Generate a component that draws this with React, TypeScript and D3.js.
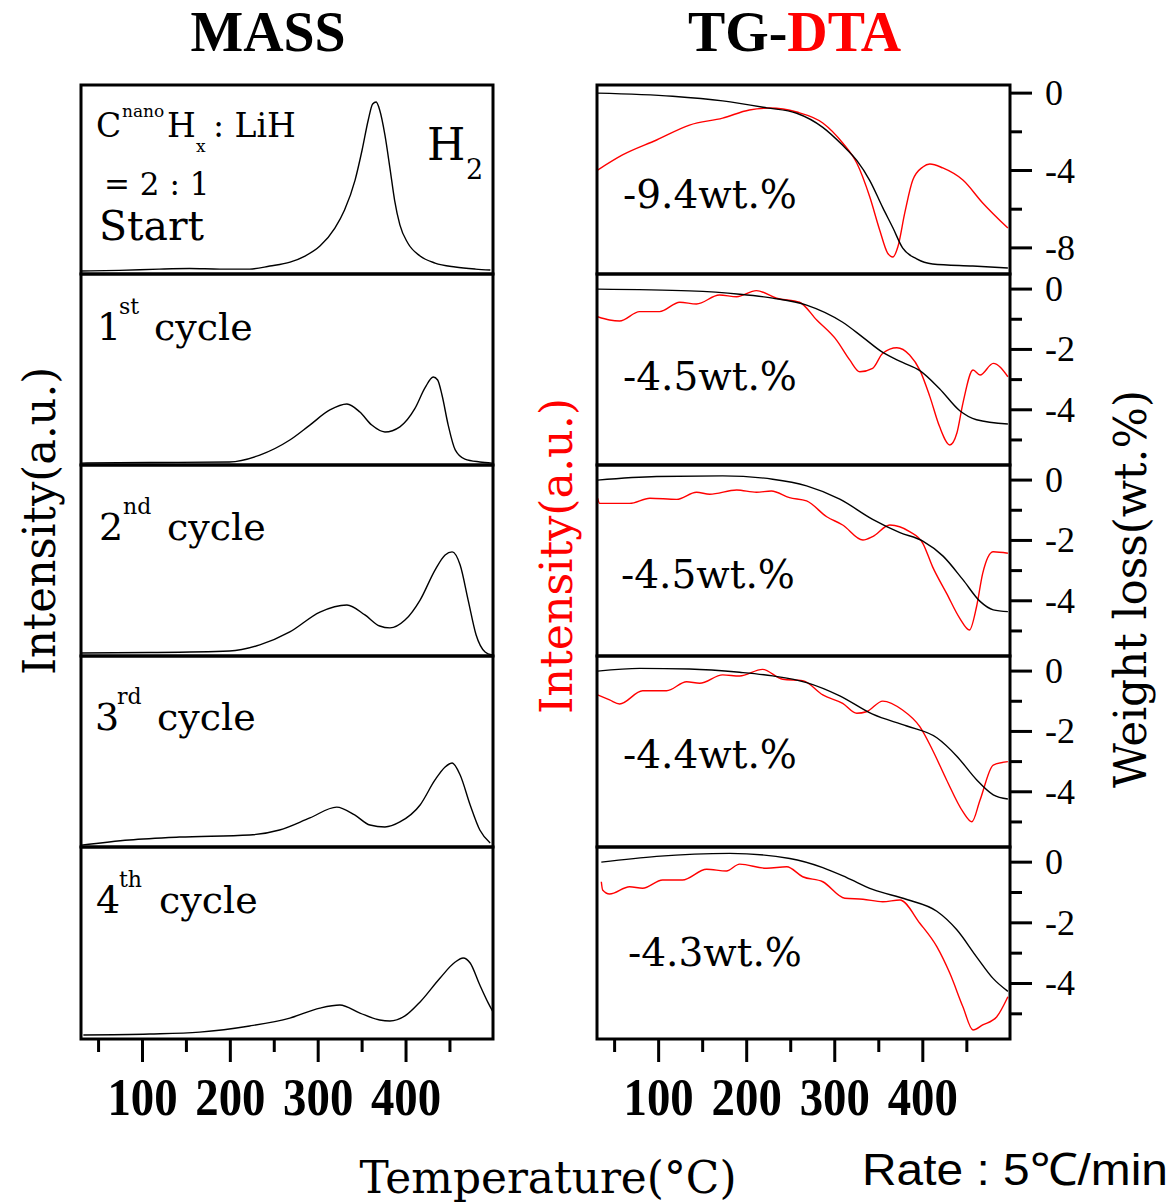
import React from 'react';
import * as d3 from 'd3';

// ---------- data ----------
const TEMP_DOMAIN: [number, number] = [30, 499];
const X_MAJOR = [100, 200, 300, 400];
const X_MINOR = [50, 150, 250, 350, 450];

// MASS (H2 intensity, a.u.) : [temperature, intensity]
const massStart: [number, number][] = [
  [30, 1.6], [73.8, 1.9], [119, 2.6], [153.6, 2.9], [188, 2.6], [222, 2.6], [245, 4.2], [268, 6.3],
  [285, 9.5], [302, 14.8], [319, 24.3], [330, 33.9], [342, 49.7], [350, 65.6], [357, 81.5], [362, 90],
  [366, 91], [370, 86.8], [376, 73.5], [382, 55], [387, 39], [393, 26], [402, 16.4], [416, 9.5],
  [433, 5.8], [456, 3.7], [479, 2.6], [496, 2.1],
];
const mass1st: [number, number][] = [
  [30, 1.0], [108, 1.3], [199, 1.6], [233.5, 5.2], [267.7, 13.1], [290.5, 20.9], [313.3, 28.8],
  [332.7, 31.9], [347.5, 27.7], [361, 20.9], [376, 17.3], [393, 20.0], [410, 29.5], [421.7, 40.5],
  [431, 46.1], [436, 44.5], [441, 36.5], [448, 20.9], [456, 7.9], [467, 3.1], [484, 1.6], [498, 1.0],
];
const mass2nd: [number, number][] = [
  [30, 1.6], [108, 1.8], [199, 2.6], [233.5, 5.8], [267.7, 12.6], [302, 23.0], [332.7, 26.7],
  [353.2, 21.5], [370, 15.7], [381.7, 14.7], [398.8, 18.8], [416, 29.3], [433, 45.0], [444.5, 52.9],
  [452.5, 54.5], [461.6, 47.6], [470.7, 29.3], [479.8, 11.0], [490, 2.1], [498, 0.5],
];
const mass3rd: [number, number][] = [
  [30, 1.0], [85, 3.7], [142, 5.2], [222, 6.3], [256, 8.9], [290.5, 15.2], [321, 20.9], [341.5, 16.8],
  [358.9, 11.5], [376, 10.5], [393, 13.1], [416, 22.0], [433, 35.1], [444.5, 41.9], [452.5, 44.0],
  [461.6, 37.7], [473, 22.0], [484, 8.9], [495.8, 2.1],
];
const mass4th: [number, number][] = [
  [32.7, 2.1], [108, 2.6], [165, 3.6], [222, 6.8], [267.7, 10.9], [302, 16.1], [324.7, 17.7],
  [347.5, 13.5], [370, 9.9], [381.7, 9.4], [398.8, 12.0], [416, 19.3], [438.8, 31.8], [456, 40.1],
  [465, 42.2], [473, 39.6], [484, 28.1], [493.5, 18.8], [499, 14.1],
];

// TG (weight loss, wt.%) : [temperature, wt%]
const tgStart: [number, number][] = [
  [30.7, 0], [115.9, -0.16], [172.7, -0.4], [222.7, -0.76], [256.8, -1.04], [286.4, -1.77], [309, -2.7],
  [325, -3.48], [339.8, -4.52], [354.5, -5.92], [366, -6.96], [377, -8.0], [393, -8.57], [411, -8.83],
  [456.8, -8.94], [496.6, -9.04],
];
const tg1st: [number, number][] = [
  [30.7, 0], [135, -0.06], [192, -0.17], [229.5, -0.3], [268, -0.53], [309, -1.1], [332, -1.6],
  [354.5, -2.1], [377, -2.43], [396.6, -2.7], [419, -3.3], [442, -4.03], [461, -4.33], [496.6, -4.47],
];
const tg2nd: [number, number][] = [
  [30.7, 0], [97.7, 0.12], [172.7, 0.14], [229.5, 0.03], [268, -0.19], [305.7, -0.63], [343, -1.3],
  [374, -1.74], [400, -2.02], [423, -2.52], [445.5, -3.3], [465, -4.02], [480, -4.3], [496.6, -4.36],
];
const tg3rd: [number, number][] = [
  [30.7, 0], [78.4, 0.09], [135, 0.07], [192, -0.04], [229.5, -0.16], [268, -0.38], [305.7, -0.82],
  [343, -1.43], [381.8, -1.82], [415.9, -2.21], [438.6, -2.82], [461, -3.6], [480, -4.1], [496.6, -4.24],
];
const tg4th: [number, number][] = [
  [34.9, 0], [97.7, 0.19], [180.7, 0.29], [248.9, 0.12], [286.4, -0.18], [313.6, -0.51], [343, -0.9],
  [381.8, -1.23], [415.9, -1.62], [438.6, -2.23], [461, -3.12], [480, -3.84], [496.6, -4.26],
];

// DTA (a.u.) : [temperature, signal]
const dtaStart: [number, number][] = [
  [30.7, 55.0], [59, 63.0], [97.7, 70.9], [135, 78.8], [172.7, 82.5], [203, 86.8], [226, 87.8],
  [256.8, 85.7], [286.4, 79.9], [309, 69.3], [325, 58.7], [339.8, 40.7], [351, 23.3], [360, 11.1],
  [366, 9.0], [371.6, 14.3], [379.5, 32.3], [388.6, 49.7], [400, 56.6], [408, 58.2], [422.7, 56.1],
  [445.5, 49.7], [468, 37.6], [496.6, 24.3],
];
const dta1st: [number, number][] = [
  [30.7, 77.6], [44.3, 75.9], [55.7, 75.4], [78.4, 80.3], [101, 80.3], [124, 85.2], [143, 84.3],
  [169, 89.0], [188.6, 88.1], [211, 91.3], [234, 87.3], [260, 85.2], [279.5, 75.9], [302, 65.4],
  [317, 55.0], [328.4, 48.8], [343, 50.6], [354.5, 58.5], [370.5, 61.4], [385, 57.6], [396.6, 49.7],
  [408, 35.8], [419, 20.1], [430.7, 10.5], [438.6, 16.6], [445.5, 32.3], [457, 49.7], [465, 47.1],
  [480, 53.2], [496.6, 46.2],
];
const dta2nd: [number, number][] = [
  [30.7, 82.6], [33, 79.9], [67, 79.9], [90, 82.6], [120.5, 82.0], [143, 85.7], [158, 84.7],
  [188.6, 86.9], [211, 85.7], [228, 86.4], [248.6, 82.9], [268, 81.2], [290.9, 72.9], [309, 68.6],
  [332, 60.7], [343, 62.5], [362.5, 68.6], [385, 65.1], [400, 59.0], [411, 46.8], [427, 32.8],
  [442, 19.7], [453, 13.6], [461, 25.8], [468, 43.3], [480, 54.6], [496.6, 53.8],
];
const dta3rd: [number, number][] = [
  [30.7, 79.6], [44.3, 77.0], [55.7, 74.9], [81.8, 81.8], [109, 81.8], [131.8, 86.5], [146.6, 85.7],
  [172.7, 90.1], [192, 89.5], [218, 93.0], [240.9, 87.8], [263.6, 87.1], [286.4, 79.6], [309, 75.2],
  [325, 70.0], [336, 70.8], [354.5, 76.4], [377, 71.7], [396.6, 63.0], [411, 50.8], [427, 35.1],
  [445.5, 18.5], [455.7, 13.2], [465, 24.6], [480, 42.9], [496.6, 44.7],
];
const dta4th: [number, number][] = [
  [34.9, 81.9], [36.4, 77.6], [44.3, 75.5], [67, 79.3], [81.8, 78.5], [104.5, 82.8], [127, 82.8],
  [154.5, 88.4], [177, 87.5], [192, 91.1], [222.7, 88.9], [245.5, 89.7], [263.6, 84.5], [286.4, 81.9],
  [311.4, 73.3], [332, 72.8], [354.5, 71.5], [374, 72.4], [396.6, 60.3], [415.9, 48.1], [430.7, 34.2],
  [445.5, 16.8], [457, 4.7], [468, 7.3], [484, 11.6], [496.6, 22.0],
];

const massSeries = [massStart, mass1st, mass2nd, mass3rd, mass4th];
const tgSeries = [tgStart, tg1st, tg2nd, tg3rd, tg4th];
const dtaSeries = [dtaStart, dta1st, dta2nd, dta3rd, dta4th];

const tgDomainFirst: [number, number] = [0.42, -9.35];
const tgDomainOther: [number, number] = [0.5, -5.83];
const tgMajorFirst = [0, -4, -8];
const tgMinorFirst = [-2, -6];
const tgMajorOther = [0, -2, -4];
const tgMinorOther = [-1, -3, -5];

const wtLabels = ['-9.4wt.%', '-4.5wt.%', '-4.5wt.%', '-4.4wt.%', '-4.3wt.%'];
const cycleNums = ['1', '2', '3', '4'];
const cycleSups = ['st', 'nd', 'rd', 'th'];

// ---------- layout ----------
const W = 1174;
const H = 1202;
const ROWS = [85, 274, 465, 656, 847, 1039];
const LEFT: [number, number] = [81, 493];
const RIGHT: [number, number] = [597, 1010];

const SERIF = "'DejaVu Serif', serif";
const TIMES = "'Liberation Serif', 'Times New Roman', serif";
const SANS = "'Liberation Sans', Arial, sans-serif";

const wtPos = [
  { x: 623, y: 208 },
  { x: 623, y: 390 },
  { x: 621, y: 588 },
  { x: 623, y: 768 },
  { x: 628, y: 966 },
];
const cyclePos = [
  { x: 97, y: 340, sx: 119, cx: 154 },
  { x: 99, y: 540, sx: 123, cx: 167 },
  { x: 95, y: 730, sx: 117, cx: 157 },
  { x: 96, y: 913, sx: 119, cx: 159 },
];

export default function App() {
  const xL = d3.scaleLinear().domain(TEMP_DOMAIN).range(LEFT);
  const xR = d3.scaleLinear().domain(TEMP_DOMAIN).range(RIGHT);

  const panels = ROWS.slice(0, 5).map((top, i) => {
    const bottom = ROWS[i + 1];
    const yMass = d3.scaleLinear().domain([0, 100]).range([bottom, top]);
    const yDta = d3.scaleLinear().domain([0, 100]).range([bottom, top]);
    const yTg = d3.scaleLinear().domain(i === 0 ? tgDomainFirst : tgDomainOther).range([top, bottom]);
    const massLine = d3.line<[number, number]>().x(d => xL(d[0])).y(d => yMass(d[1])).curve(d3.curveMonotoneX);
    const tgLine = d3.line<[number, number]>().x(d => xR(d[0])).y(d => yTg(d[1])).curve(d3.curveMonotoneX);
    const dtaLine = d3.line<[number, number]>().x(d => xR(d[0])).y(d => yDta(d[1])).curve(d3.curveMonotoneX);
    return {
      i, top, bottom, yTg,
      mass: massLine(massSeries[i]) || '',
      tg: tgLine(tgSeries[i]) || '',
      dta: dtaLine(dtaSeries[i]) || '',
      major: i === 0 ? tgMajorFirst : tgMajorOther,
      minor: i === 0 ? tgMinorFirst : tgMinorOther,
    };
  });

  const axisBottom = ROWS[5];

  return (
    <div style={{ position: 'absolute', left: 0, top: 0 }}>
      <svg width={W} height={H} style={{ display: 'block', background: '#fff' }}>
        <defs>
          {panels.map(p => (
            <React.Fragment key={p.i}>
              <clipPath id={`cl${p.i}`}>
                <rect x={LEFT[0]} y={p.top} width={LEFT[1] - LEFT[0]} height={p.bottom - p.top} />
              </clipPath>
              <clipPath id={`cr${p.i}`}>
                <rect x={RIGHT[0]} y={p.top} width={RIGHT[1] - RIGHT[0]} height={p.bottom - p.top} />
              </clipPath>
            </React.Fragment>
          ))}
        </defs>

        {/* titles */}
        <text transform="translate(268,51) scale(0.98,1)" textAnchor="middle" fontFamily={TIMES}
          fontWeight="bold" fontSize={57} fill="#000">MASS</text>
        <text transform="translate(688,51) scale(0.98,1)" fontFamily={TIMES} fontWeight="bold" fontSize={57}>
          <tspan fill="#000">TG-</tspan><tspan fill="#ff0000">DTA</tspan>
        </text>

        {/* curves */}
        {panels.map(p => (
          <g key={`c${p.i}`}>
            <path d={p.mass} fill="none" stroke="#000" strokeWidth={1.4} clipPath={`url(#cl${p.i})`} />
            <path d={p.dta} fill="none" stroke="#ff0000" strokeWidth={1.4} clipPath={`url(#cr${p.i})`} />
            <path d={p.tg} fill="none" stroke="#000" strokeWidth={1.4} clipPath={`url(#cr${p.i})`} />
          </g>
        ))}

        {/* panel frames */}
        {panels.map(p => (
          <g key={`f${p.i}`} fill="none" stroke="#000" strokeWidth={3}>
            <rect x={LEFT[0]} y={p.top} width={LEFT[1] - LEFT[0]} height={p.bottom - p.top} />
            <rect x={RIGHT[0]} y={p.top} width={RIGHT[1] - RIGHT[0]} height={p.bottom - p.top} />
          </g>
        ))}

        {/* right TG axes */}
        {panels.map(p => (
          <g key={`a${p.i}`}>
            {p.major.map(v => (
              <g key={`M${v}`}>
                <line x1={RIGHT[1]} x2={RIGHT[1] + 22} y1={p.yTg(v)} y2={p.yTg(v)} stroke="#000" strokeWidth={3} />
                <text x={1045} y={p.yTg(v) + 12} fontFamily={TIMES} fontSize={36} fill="#000">{v === 0 ? '0' : `-${Math.abs(v)}`}</text>
              </g>
            ))}
            {p.minor.map(v => (
              <line key={`m${v}`} x1={RIGHT[1]} x2={RIGHT[1] + 12} y1={p.yTg(v)} y2={p.yTg(v)} stroke="#000" strokeWidth={3} />
            ))}
          </g>
        ))}

        {/* bottom x axes */}
        {[xL, xR].map((x, k) => (
          <g key={`x${k}`}>
            {X_MINOR.map(v => (
              <line key={`m${v}`} x1={x(v)} x2={x(v)} y1={axisBottom} y2={axisBottom + 13} stroke="#000" strokeWidth={3} />
            ))}
            {X_MAJOR.map(v => (
              <g key={`M${v}`}>
                <line x1={x(v)} x2={x(v)} y1={axisBottom} y2={axisBottom + 23} stroke="#000" strokeWidth={3} />
                <text transform={`translate(${x(v)},1115) scale(0.9,1)`} textAnchor="middle" fontFamily={TIMES}
                  fontWeight="bold" fontSize={52} fill="#000">{v}</text>
              </g>
            ))}
          </g>
        ))}

        {/* panel annotations: left */}
        <g fontFamily={SERIF} fill="#000">
          <text x={96} y={137} fontSize={33}>C</text>
          <text x={122} y={117} fontSize={17}>nano</text>
          <text x={167} y={137} fontSize={33}>H</text>
          <text x={196} y={152} fontSize={17}>x</text>
          <text x={213} y={137} fontSize={33}>: LiH</text>
          <text x={104} y={195} fontSize={31}>= 2 : 1</text>
          <text x={99} y={240} fontSize={41}>Start</text>
          <text x={427} y={160} fontSize={44}>H</text>
          <text x={466} y={179} fontSize={27}>2</text>
          {cyclePos.map((c, k) => (
            <g key={`cy${k}`}>
              <text x={c.x} y={c.y} fontSize={38}>{cycleNums[k]}</text>
              <text x={c.sx} y={c.y - 26} fontSize={22}>{cycleSups[k]}</text>
              <text x={c.cx} y={c.y} fontSize={38}>cycle</text>
            </g>
          ))}
        </g>

        {/* panel annotations: right */}
        <g fontFamily={SERIF} fill="#000">
          {wtPos.map((w, k) => (
            <text key={`w${k}`} x={w.x} y={w.y} fontSize={40} textLength={174} lengthAdjust="spacingAndGlyphs">{wtLabels[k]}</text>
          ))}
        </g>

        {/* axis titles */}
        <text transform="translate(55,521) rotate(-90)" textAnchor="middle" fontFamily={SERIF} fontSize={45}
          textLength={308} lengthAdjust="spacingAndGlyphs" fill="#000">Intensity(a.u.)</text>
        <text transform="translate(572,556) rotate(-90)" textAnchor="middle" fontFamily={SERIF} fontSize={45}
          textLength={316} lengthAdjust="spacingAndGlyphs" fill="#ff0000">Intensity(a.u.)</text>
        <text transform="translate(1146,589) rotate(-90)" textAnchor="middle" fontFamily={SERIF} fontSize={44}
          textLength={398} lengthAdjust="spacingAndGlyphs" fill="#000">Weight loss(wt.%)</text>
        <text x={548} y={1193} textAnchor="middle" fontFamily={SERIF} fontSize={44}
          textLength={377} lengthAdjust="spacingAndGlyphs" fill="#000">Temperature(°C)</text>
        <text x={862} y={1185} fontFamily={SANS} fontSize={45}
          textLength={306} lengthAdjust="spacingAndGlyphs" fill="#000">Rate : 5℃/min</text>
      </svg>
    </div>
  );
}
